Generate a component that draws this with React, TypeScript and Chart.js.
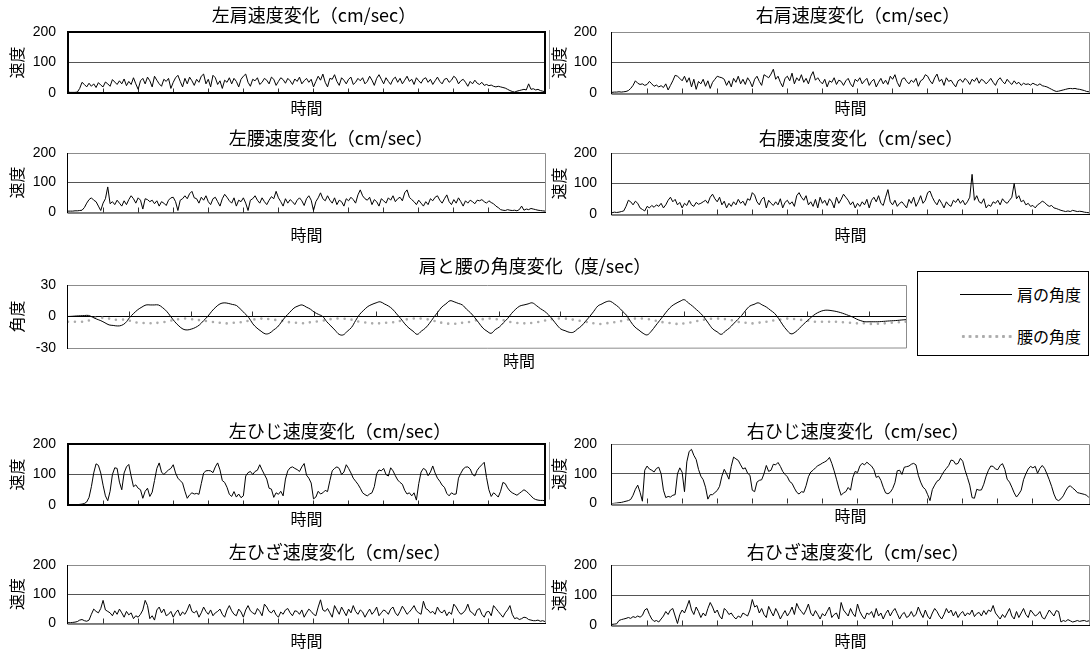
import React, { useEffect, useRef } from 'react';
import { Chart, registerables } from 'chart.js';

Chart.register(...registerables);
Chart.defaults.color = '#000';

// ---------- data ----------
const FRAMES = Array.from({ length: 205 }, (_, i) => i);
const X_TICK_STEP = 15;

const LEFT_SHOULDER = [
  3, 2, 2, 2, 3, 15, 35, 28, 20, 32,
  22, 30, 18, 34, 26, 20, 36, 30, 22, 44,
  36, 28, 40, 30, 46, 24, 38, 28, 50, 30,
  12, 40, 48, 30, 52, 40, 20, 55, 42, 30,
  22, 45, 38, 48, 15, 35, 50, 58, 38, 20,
  48, 30, 52, 40, 25, 45, 35, 55, 62, 30,
  45, 20, 58, 50, 28, 40, 15, 42, 35, 50,
  30, 48, 38, 20, 45, 55, 62, 35, 22, 45,
  40, 50, 28, 35, 48, 42, 30, 52, 45, 25,
  38, 50, 44, 32, 48, 40, 28, 46, 38, 52,
  30, 40, 48, 35, 45, 20, 38, 55, 42, 62,
  35, 20, 48, 45, 60, 38, 25, 50, 42, 30,
  45, 52, 28, 35, 48, 40, 50, 30, 38, 55,
  42, 25, 48, 60, 45, 30, 50, 38, 28, 45,
  52, 35, 48, 30, 42, 55, 38, 45, 28, 50,
  40, 32, 46, 50, 35, 45, 28, 40, 52, 38,
  30, 45, 48, 35, 42, 55, 48, 30, 40, 45,
  35, 22, 38, 30, 42, 32, 28, 35, 25, 28,
  24, 26, 22, 20, 22, 20, 18, 16, 12, 8,
  5, 3, 6, 8, 10, 12, 10, 30, 12, 14,
  10, 12, 8, 6, 4,
];

const RIGHT_SHOULDER = [
  2, 3, 3, 4, 3, 4, 5, 8, 15, 25,
  40, 32, 28, 30, 25, 28, 38, 30, 22, 26,
  20, 24, 18, 30, 10, 25, 40, 58, 55, 48,
  40, 55, 35, 50, 20, 45, 12, 38, 30, 45,
  22, 40, 15, 35, 45, 55, 52, 50, 45, 25,
  40, 20, 48, 35, 55, 30, 45, 28, 50, 38,
  20, 45, 55, 38, 25, 60, 55, 50, 62, 78,
  45, 55, 35, 20, 48, 55, 40, 65, 30, 50,
  40, 60, 35, 48, 30, 55, 70, 42, 50, 38,
  30, 45, 20, 40, 35, 50, 28, 42, 38, 25,
  40, 48, 30, 20, 45, 38, 50, 30, 40, 48,
  25, 38, 45, 20, 35, 48, 30, 42, 28, 55,
  45, 60, 35, 20, 45, 50, 38, 30, 42, 35,
  48, 22, 40, 45, 60, 55, 40, 30, 50, 62,
  38, 45, 25, 50, 38, 42, 30, 20, 40, 45,
  35, 48, 40, 28, 45, 38, 50, 32, 45, 40,
  30, 38, 48, 35, 25, 42, 50, 38, 30, 45,
  35, 28, 40, 30, 35, 25, 32, 28, 30, 26,
  32, 28, 25, 30, 24, 22, 20, 16, 12, 8,
  5, 6, 8, 10, 12, 14, 15, 14, 15, 13,
  12, 10, 8, 5, 4,
];

const LEFT_WAIST = [
  3, 3, 3, 4, 4, 5, 6, 15, 30, 42,
  48, 40, 35, 20, 5, 30, 45, 85, 28, 35,
  25, 40, 30, 20, 38, 25, 42, 55, 45, 30,
  48, 40, 10, 45, 42, 35, 40, 28, 38, 20,
  35, 30, 22, 40, 48, 50, 35, 5, 40, 45,
  55, 45, 62, 70, 48, 45, 30, 50, 40, 55,
  35, 25, 45, 50, 35, 20, 45, 60, 50, 38,
  30, 48, 20, 40, 35, 48, 30, 5, 40, 45,
  55, 40, 30, 48, 35, 25, 40, 52, 45, 70,
  48, 35, 20, 45, 30, 42, 35, 25, 40, 48,
  38, 22, 45, 55, 40, 5, 35, 48, 65, 45,
  38, 55, 40, 30, 48, 25, 40, 35, 20, 45,
  38, 50, 42, 30, 58, 75, 55, 45, 40, 50,
  25, 42, 35, 20, 45, 38, 30, 48, 40, 55,
  35, 45, 50, 38, 65, 75, 50, 42, 35, 25,
  40, 30, 20, 35, 25, 45, 38, 50, 55, 40,
  30, 45, 58, 35, 25, 42, 30, 48, 35, 20,
  38, 30, 40, 35, 28, 40, 38, 42, 35, 30,
  38, 32, 28, 20, 15, 8, 6, 5, 8, 6,
  5, 6, 4, 8, 20, 6, 10, 8, 12, 10,
  8, 6, 5, 4, 3,
];

const RIGHT_WAIST = [
  4, 6, 5, 6, 8, 10, 25, 45, 40, 30,
  42, 35, 20, 15, 10, 25, 20, 28, 22, 30,
  25, 35, 20, 30, 45, 55, 40, 48, 30, 38,
  20, 35, 28, 45, 30, 25, 38, 32, 35, 40,
  45, 35, 55, 65, 50, 40, 55, 30, 42, 20,
  35, 25, 40, 30, 48, 35, 42, 28, 50, 45,
  70, 62, 40, 30, 48, 55, 20, 45, 35, 28,
  40, 30, 50, 20, 38, 45, 32, 40, 25, 60,
  70, 55, 45, 60, 30, 40, 25, 48, 20, 55,
  35, 45, 28, 50, 40, 20, 55, 35, 48, 65,
  55, 45, 30, 40, 20, 35, 25, 40, 30, 48,
  20, 45, 55, 40, 60, 35, 28, 55, 80, 40,
  30, 45, 25, 35, 40, 30, 20, 48, 35, 55,
  25, 40, 60, 35, 45, 70, 75, 55, 40, 30,
  48, 35, 20, 40, 30, 25, 45, 38, 50, 35,
  45, 30, 40, 55, 130, 45, 60, 40, 35, 50,
  20, 30, 25, 40, 35, 45, 30, 50, 40, 35,
  45, 55, 100, 50, 60, 40, 45, 30, 35, 25,
  28, 20, 30, 35, 42, 38, 30, 25, 28, 20,
  18, 15, 12, 10, 8, 10, 8, 12, 10, 8,
  9, 8, 6, 5, 4,
];

const LEFT_ELBOW = [
  0, 0, 0, 1, 1, 2, 3, 5, 10, 25,
  60, 105, 135, 130, 105, 65, 30, 14, 45, 100,
  122, 120, 75, 50, 105, 125, 133, 95, 60, 66,
  55, 50, 22, 45, 55, 28, 42, 80, 120, 138,
  108, 100, 108, 115, 120, 132, 105, 88, 80, 72,
  45, 22, 33, 40, 36, 38, 35, 70, 105, 112,
  113, 112, 106, 125, 138, 115, 80, 74, 58, 35,
  28, 44, 26, 36, 24, 30, 95, 106, 110, 100,
  110, 114, 132, 115, 100, 85, 55, 52, 25, 40,
  35, 45, 30, 85, 112, 122, 125, 120, 116, 110,
  125, 136, 98, 88, 72, 20, 26, 45, 36, 40,
  48, 44, 80, 112, 120, 125, 120, 100, 108, 132,
  120, 105, 88, 78, 68, 55, 40, 34, 30, 36,
  40, 60, 102, 115, 112, 120, 100, 95, 122, 112,
  96, 82, 74, 68, 48, 36, 40, 30, 40, 16,
  70, 108, 120, 115, 96, 108, 128, 105, 88, 78,
  65, 58, 38, 30, 40, 35, 36, 88, 104, 118,
  124, 125, 118, 100, 95, 114, 124, 132, 140, 90,
  50, 28, 40, 34, 26, 45, 74, 70, 56, 46,
  40, 36, 32, 38, 44, 50, 45, 38, 30, 22,
  18, 16, 15, 15, 14,
];

const RIGHT_ELBOW = [
  0, 1, 2, 3, 4, 6, 8, 10, 14, 28,
  48, 62, 38, 8, 112, 126, 116, 112, 106, 118,
  122, 100, 45, 20, 24, 22, 28, 30, 100, 120,
  105, 40, 140, 175, 182, 162, 148, 115, 92, 80,
  55, 15, 30, 30, 37, 44, 58, 92, 115, 100,
  82, 125, 156, 150, 145, 130, 116, 120, 102, 95,
  45, 40, 72, 78, 80, 100, 128, 108, 112, 132,
  130, 138, 125, 108, 98, 90, 74, 68, 52, 38,
  32, 40, 38, 60, 90, 106, 112, 120, 127, 131,
  136, 140, 145, 155, 135, 110, 82, 52, 28, 36,
  40, 54, 45, 88, 108, 104, 126, 135, 130, 139,
  132, 126, 114, 88, 92, 78, 55, 36, 33, 38,
  50, 70, 110, 112, 98, 122, 124, 126, 132, 135,
  130, 95, 72, 55, 48, 30, 10, 47, 62, 75,
  80, 95, 108, 118, 128, 146, 144, 132, 135, 152,
  142, 112, 88, 62, 20, 18, 48, 45, 46, 65,
  92, 112, 126, 125, 116, 114, 128, 134, 115, 82,
  72, 55, 36, 22, 32, 45, 80, 100, 116, 125,
  120, 125, 102, 118, 128, 118, 100, 80, 58, 32,
  14, 10, 16, 26, 42, 55, 60, 52, 46, 37,
  35, 33, 31, 28, 20,
];

const LEFT_KNEE = [
  1, 1, 2, 3, 5, 10, 12, 8, 6, 10,
  30, 48, 40, 35, 50, 78, 45, 40, 35, 25,
  42, 30, 48, 35, 20, 40, 28, 35, 15, 25,
  20, 30, 45, 78, 60, 15, 25, 10, 45, 55,
  35, 48, 25, 30, 40, 20, 35, 45, 25, 38,
  30, 45, 65, 40, 35, 42, 20, 35, 55, 40,
  30, 45, 25, 35, 40, 48, 30, 20, 45, 60,
  42, 30, 25, 48, 38, 20, 45, 60, 42, 35,
  30, 50, 40, 25, 65, 55, 40, 35, 45, 28,
  20, 38, 30, 45, 50, 35, 25, 42, 40, 30,
  45, 20, 35, 48, 40, 30, 25, 55, 80, 45,
  40, 50, 35, 20, 60, 45, 30, 55, 40, 25,
  48, 35, 60, 40, 30, 45, 38, 20, 35, 48,
  30, 40, 55, 25, 35, 45, 40, 30, 48, 55,
  35, 25, 40, 58, 45, 30, 38, 48, 60, 42,
  35, 30, 75, 50, 45, 35, 40, 30, 55, 40,
  35, 45, 25, 38, 30, 65, 55, 40, 30, 35,
  45, 65, 40, 35, 25, 45, 50, 30, 20, 38,
  40, 25, 60, 50, 40, 30, 20, 35, 45, 60,
  30, 15, 18, 12, 15, 20, 18, 12, 10, 8,
  8, 10, 6, 8, 5,
];

const RIGHT_KNEE = [
  2, 3, 4, 15, 18, 20, 22, 25, 22, 28,
  25, 30, 26, 32, 50, 55, 35, 20, 12, 15,
  10, 20, 30, 45, 35, 50, 55, 30, 5, 35,
  50, 40, 60, 82, 50, 35, 60, 45, 25, 40,
  30, 55, 75, 60, 40, 50, 30, 20, 55, 48,
  35, 40, 28, 20, 30, 25, 40, 35, 30, 50,
  85, 60, 65, 40, 55, 35, 25, 62, 45, 30,
  55, 40, 20, 35, 48, 30, 42, 60, 35, 72,
  55, 45, 35, 50, 70, 40, 30, 48, 35, 20,
  38, 30, 45, 60, 25, 35, 40, 20, 75, 50,
  40, 30, 55, 38, 28, 70, 45, 30, 20, 40,
  35, 45, 25, 55, 30, 40, 20, 38, 50, 30,
  45, 55, 38, 20, 35, 42, 25, 30, 45, 28,
  35, 60, 40, 25, 50, 30, 20, 40, 55, 45,
  30, 20, 35, 55, 40, 50, 30, 45, 25, 38,
  45, 30, 40, 35, 50, 28, 38, 42, 30, 48,
  35, 50, 45, 65, 40, 30, 20, 35, 25, 40,
  55, 30, 20, 45, 25, 40, 55, 35, 25, 50,
  40, 30, 35, 45, 25, 20, 35, 50, 40, 30,
  48, 45, 10, 15, 12, 18, 14, 10, 12, 15,
  12, 14, 15, 12, 14,
];

const SHOULDER_ANGLE = [
  0, 0.2, 0.5, 0.7, 0.9, 1, -0.7, -2.5, -4, -6,
  -8, -8.5, -9, -8.5, -6, -1, 3, 6.5, 9, 11,
  11, 11, 11, 8.5, 5, 0, -5, -9, -12, -12.8,
  -12, -10.5, -8, -4, 0, 5, 9, 12, 13, 12.5,
  11.5, 10.5, 7, 3, -1, -7, -11, -14, -16.5, -16,
  -13, -10, -5, 0, 4, 8, 10, 11, 9, 7,
  4, 2, 0, -5, -9, -13, -17, -17.5, -14, -10.5,
  -4, 2, 6, 9.5, 11.5, 13, 14, 12, 10, 7,
  2.5, -2, -7, -11, -14, -17, -14, -11, -6.5, -1,
  4, 9, 12, 15, 14, 12.5, 11, 7, 3.5, -1,
  -6, -11, -14, -16, -12.5, -10, -6, -2, 3, 7,
  10, 11, 12, 13, 10.5, 7.5, 5, 1.5, -3, -8,
  -12, -13.5, -15, -15, -12, -9, -4.5, 0, 5, 10,
  12, 14, 14.5, 12, 9, 5, 1, -5, -10, -13,
  -16, -17.5, -14, -9, -4, 1, 6, 10, 12.5, 14.5,
  16, 13, 10, 6.5, 3, -1.5, -7, -12, -14.5, -17,
  -14, -11, -7, -3, 1, 6, 10, 11.5, 13, 11,
  9, 6, 3, -2, -8, -13, -16.5, -15, -11.5, -7.5,
  -4, -0.5, 2.5, 4.5, 5.8, 6, 5.5, 4.8, 3.8, 2.5,
  1, -0.5, -2.5, -4, -5, -5, -5, -5, -4.8, -4.5,
  -4.2, -4, -3.7, -3.3, -3,
];

const WAIST_ANGLE = [
  -5, -5, -5, -5, -5, -4, -2, -1, -1, -2,
  -2, -3, -3, -3, -3, -4, -5, -6, -6, -6.5,
  -6.5, -6, -6, -5.5, -5, -4, -3, -2.5, -2, -2,
  -2.5, -3, -3.5, -4, -4.5, -5, -6, -6, -6.5, -6.5,
  -6, -6, -5.5, -5, -4, -3, -2.5, -2, -2, -2.5,
  -3, -3.5, -4, -5, -5.5, -6, -6, -6.5, -6, -5.5,
  -5, -4.5, -4, -3, -2.5, -2, -2, -2, -2.5, -3,
  -4, -5, -5.5, -6, -6.5, -6.5, -6.5, -6, -6, -5.5,
  -5, -4, -3, -2.5, -2, -2, -2, -2.5, -3, -4,
  -5, -6, -6.5, -7, -7, -6.5, -6, -5.5, -5, -4,
  -3, -2.5, -2, -2, -2.5, -3, -3.5, -4.5, -5.5, -6,
  -6.5, -6.5, -6.5, -6, -5.5, -5, -4, -3, -2.5, -2,
  -2, -2, -2.5, -3, -3.5, -4.5, -5, -6, -6.5, -7,
  -7, -6.5, -6, -5.5, -5, -4, -3, -2.5, -2, -2,
  -2, -2.5, -3, -4, -5, -5.5, -6, -6.5, -7, -7,
  -6.5, -6, -5.5, -4.5, -3.5, -3, -2.5, -2, -2, -2,
  -2.5, -3, -4, -5, -5.5, -6, -6.5, -6.5, -6, -5.5,
  -5, -4.5, -3.5, -3, -2.5, -2, -2, -2.5, -3, -3.5,
  -4, -4.5, -5, -5, -5, -5, -5, -5, -5.5, -5.5,
  -6, -6, -6.5, -6.5, -6.5, -7, -7, -7, -6.5, -6.5,
  -6, -6, -5.5, -5.5, -5,
];

const SPEED_TICKS = { min: 0, max: 200, step: 100, line: 100 };
const ANGLE_TICKS = { min: -30, max: 30, step: 30, line: 0 };

const LEGEND_LABELS = ['肩の角度', '腰の角度'];

// ---------- layout / style ----------
const FONT_JP = '"Noto Sans CJK JP", "Noto Sans", sans-serif';
const FONT_NUM = '"Liberation Sans", Arial, sans-serif';
const TITLE_SIZE = 18;
const AXIS_TITLE_SIZE = 16;
const TICK_SIZE = 14;

type Panel = {
  key: string;
  title: string;
  yTitle: string;
  xTitle: string;
  kind: 'speed' | 'angle';
  series: number[][];
  L: number; R: number; T: number; B: number;
  titleX: number; titleY: number; xTitleY: number;
  yTitleX: number; labelRight: number;
  strong?: boolean;
  edgeLine?: boolean;
};

const LEFT_COMMON = { yTitleX: 16.5, labelRight: 56 };
const RIGHT_COMMON = { yTitleX: 559, labelRight: 597 };

const PANELS: Panel[] = [
  { key: 'ls', title: '左肩速度変化（cm/sec）', yTitle: '速度', xTitle: '時間', kind: 'speed', series: [LEFT_SHOULDER],
    L: 68, R: 545, T: 32, B: 93, titleX: 314, titleY: 15, xTitleY: 108, strong: true, ...LEFT_COMMON },
  { key: 'rs', title: '右肩速度変化（cm/sec）', yTitle: '速度', xTitle: '時間', kind: 'speed', series: [RIGHT_SHOULDER],
    L: 612, R: 1089, T: 32, B: 93, titleX: 858, titleY: 15, xTitleY: 108, edgeLine: true, ...RIGHT_COMMON },
  { key: 'lw', title: '左腰速度変化（cm/sec）', yTitle: '速度', xTitle: '時間', kind: 'speed', series: [LEFT_WAIST],
    L: 68, R: 545, T: 153, B: 212, titleX: 331, titleY: 138, xTitleY: 235, ...LEFT_COMMON },
  { key: 'rw', title: '右腰速度変化（cm/sec）', yTitle: '速度', xTitle: '時間', kind: 'speed', series: [RIGHT_WAIST],
    L: 612, R: 1089, T: 153, B: 214, titleX: 861, titleY: 138, xTitleY: 235, ...RIGHT_COMMON },
  { key: 'ang', title: '肩と腰の角度変化（度/sec）', yTitle: '角度', xTitle: '\u3000\u3000\u3000\u3000時間', kind: 'angle',
    series: [SHOULDER_ANGLE, WAIST_ANGLE],
    L: 68, R: 906, T: 285, B: 348, titleX: 535, titleY: 266, xTitleY: 361, ...LEFT_COMMON },
  { key: 'le', title: '左ひじ速度変化（cm/sec）', yTitle: '速度', xTitle: '時間', kind: 'speed', series: [LEFT_ELBOW],
    L: 68, R: 545, T: 444, B: 505, titleX: 340, titleY: 431, xTitleY: 519, strong: true, ...LEFT_COMMON },
  { key: 're', title: '右ひじ速度変化（cm/sec）', yTitle: '速度', xTitle: '時間', kind: 'speed', series: [RIGHT_ELBOW],
    L: 612, R: 1089, T: 444, B: 505, titleX: 858, titleY: 431, xTitleY: 517, edgeLine: true, ...RIGHT_COMMON },
  { key: 'lk', title: '左ひざ速度変化（cm/sec）', yTitle: '速度', xTitle: '時間', kind: 'speed', series: [LEFT_KNEE],
    L: 68, R: 545, T: 565, B: 623, titleX: 340, titleY: 552, xTitleY: 641, ...LEFT_COMMON },
  { key: 'rk', title: '右ひざ速度変化（cm/sec）', yTitle: '速度', xTitle: '時間', kind: 'speed', series: [RIGHT_KNEE],
    L: 612, R: 1089, T: 565, B: 625, titleX: 858, titleY: 552, xTitleY: 641, ...RIGHT_COMMON },
];

function geom(p: Panel) {
  const CL = p.L < 300 ? 0 : 548;
  const CT = Math.round(p.titleY - 14);
  const W = Math.round(2 * (p.titleX - CL));
  const H = Math.ceil(p.xTitleY + (AXIS_TITLE_SIZE * 1.2) / 2) - CT;
  return { CL, CT, W, H };
}

const crisp = (v: number) => Math.round(v) + 0.5;

const framePlugin = {
  id: 'frame',
  beforeDatasetsDraw(chart: any, _a: any, opts: any) {
    const { ctx } = chart;
    const xS = chart.scales.x;
    const yS = chart.scales.y;
    const y0 = crisp(yS.getPixelForValue(0) - 0.5);
    ctx.save();
    ctx.strokeStyle = '#333';
    ctx.lineWidth = 1;
    ctx.beginPath();
    for (const t of xS.ticks) {
      if (t.value <= 0 || t.value >= xS.max || t.value % X_TICK_STEP !== 0) continue;
      const x = crisp(xS.getPixelForValue(t.value) - 0.5);
      ctx.moveTo(x, y0);
      ctx.lineTo(x, y0 - 5);
    }
    ctx.stroke();
    if (opts.edgeLine) {
      const a = chart.chartArea;
      ctx.strokeStyle = '#a0a0a0';
      ctx.beginPath();
      ctx.moveTo(1.5, a.top - 2);
      ctx.lineTo(1.5, a.bottom - 4);
      ctx.stroke();
    }
    ctx.restore();
  },
  afterDatasetsDraw(chart: any, _a: any, opts: any) {
    const { ctx, chartArea: a } = chart;
    const l = Math.round(a.left), r = Math.round(a.right), t = Math.round(a.top), b = Math.round(a.bottom);
    ctx.save();
    if (opts.strong) {
      ctx.strokeStyle = '#000';
      ctx.lineWidth = 2;
      ctx.strokeRect(l, t, r - l, b - t);
    } else {
      ctx.lineWidth = 1;
      ctx.strokeStyle = '#8c8c8c';
      ctx.beginPath();
      ctx.moveTo(l, t + 0.5); ctx.lineTo(r + 0.5, t + 0.5); ctx.lineTo(r + 0.5, b);
      if (opts.grayBottom) { ctx.lineTo(l, b + 0.5); }
      ctx.stroke();
      ctx.strokeStyle = '#000';
      ctx.beginPath();
      ctx.moveTo(l - 0.5, t);
      ctx.lineTo(l - 0.5, b + 1);
      if (!opts.grayBottom) ctx.lineTo(r + 1, b + 0.5);
      ctx.stroke();
    }
    ctx.restore();
  },
};

function buildConfig(p: Panel): any {
  const g = geom(p);
  const tl = TITLE_SIZE * 1.2;
  const al = AXIS_TITLE_SIZE * 1.2;
  const ticksDef = p.kind === 'speed' ? SPEED_TICKS : ANGLE_TICKS;
  const datasets =
    p.kind === 'speed'
      ? [{ data: p.series[0], borderColor: '#000', borderWidth: 1, pointRadius: 0, tension: 0 }]
      : [
          { label: LEGEND_LABELS[0], data: p.series[0], borderColor: '#000', borderWidth: 1, pointRadius: 0, tension: 0.4 },
          { label: LEGEND_LABELS[1], data: p.series[1], borderColor: '#ababab', borderWidth: 2.6, pointRadius: 0, tension: 0.4,
            borderDash: [0, 7], borderCapStyle: 'round' },
        ];
  return {
    type: 'line',
    data: { labels: FRAMES, datasets },
    plugins: [framePlugin],
    options: {
      animation: false,
      responsive: false,
      maintainAspectRatio: false,
      events: [],
      layout: { padding: 0 },
      plugins: {
        legend: { display: false },
        tooltip: { enabled: false },
        frame: { strong: !!p.strong, edgeLine: !!p.edgeLine, grayBottom: p.kind === 'angle' },
        title: {
          display: true,
          text: p.title,
          color: '#000',
          font: { family: FONT_JP, size: TITLE_SIZE, weight: 'normal' },
          padding: { top: p.titleY - g.CT - tl / 2, bottom: p.T - p.titleY - tl / 2 },
        },
      },
      scales: {
        x: {
          type: 'linear',
          min: 0,
          max: FRAMES.length - 1,
          ticks: { display: false, stepSize: X_TICK_STEP },
          grid: { display: false },
          border: { display: false },
          title: {
            display: true,
            text: p.xTitle,
            color: '#000',
            font: { family: FONT_JP, size: AXIS_TITLE_SIZE },
            padding: { top: 0, bottom: 0 },
          },
          afterFit: (s: any) => { s.height = g.CT + g.H - p.B; },
        },
        y: {
          min: ticksDef.min,
          max: ticksDef.max,
          ticks: {
            stepSize: ticksDef.step,
            color: '#000',
            padding: p.L - p.labelRight,
            font: { family: FONT_NUM, size: TICK_SIZE },
          },
          grid: {
            drawTicks: false,
            lineWidth: 1,
            color: (c: any) =>
              c.tick && c.tick.value === ticksDef.line ? (p.kind === 'angle' ? '#000' : '#555') : 'rgba(0,0,0,0)',
          },
          border: { display: false },
          title: {
            display: true,
            text: p.yTitle,
            color: '#000',
            font: { family: FONT_JP, size: AXIS_TITLE_SIZE },
            padding: { top: p.yTitleX - g.CL - al / 2, bottom: 0 },
          },
          afterFit: (s: any) => { s.width = p.L - g.CL; },
        },
        yR: {
          axis: 'y',
          position: 'right',
          display: true,
          ticks: { display: false },
          grid: { display: false },
          border: { display: false },
          afterFit: (s: any) => { s.width = g.CL + g.W - p.R; },
        },
      },
    },
  };
}

function Legend() {
  return (
    <div
      style={{
        position: 'absolute', left: 917, top: 271, width: 172, height: 85,
        border: '1px solid #000', boxSizing: 'border-box', background: '#fff',
        fontFamily: FONT_JP, fontSize: 16, color: '#000',
      }}
    >
      <div style={{ position: 'absolute', left: 42, top: 22, width: 52, borderTop: '1px solid #000' }} />
      <div style={{ position: 'absolute', left: 99, top: 12, lineHeight: '20px', whiteSpace: 'nowrap' }}>{LEGEND_LABELS[0]}</div>
      <div
        style={{
          position: 'absolute', left: 42, top: 62, width: 54, height: 5,
          backgroundImage: 'radial-gradient(circle, #ababab 1.3px, rgba(255,255,255,0) 1.7px)',
          backgroundSize: '6.7px 5px',
        }}
      />
      <div style={{ position: 'absolute', left: 99, top: 54, lineHeight: '20px', whiteSpace: 'nowrap' }}>{LEGEND_LABELS[1]}</div>
    </div>
  );
}

export default function App() {
  const refs = useRef<(HTMLCanvasElement | null)[]>([]);
  useEffect(() => {
    document.body.style.margin = '0';
    const charts = PANELS.map((p, i) => new Chart(refs.current[i] as HTMLCanvasElement, buildConfig(p)));
    return () => charts.forEach((c) => c.destroy());
  }, []);
  return (
    <div style={{ position: 'absolute', left: 0, top: 0, width: 1092, height: 652, overflow: 'hidden', background: '#fff' }}>
      {PANELS.map((p, i) => {
        const g = geom(p);
        return (
          <canvas
            key={p.key}
            ref={(el) => { refs.current[i] = el; }}
            width={g.W}
            height={g.H}
            style={{ position: 'absolute', left: g.CL, top: g.CT, width: g.W, height: g.H }}
          />
        );
      })}
      <Legend />
    </div>
  );
}
